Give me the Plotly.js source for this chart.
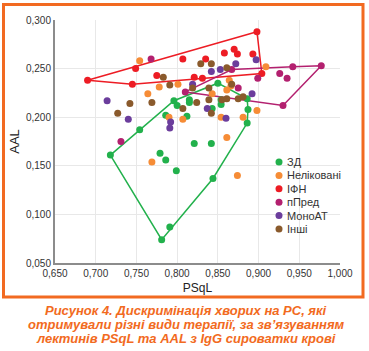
<!DOCTYPE html>
<html>
<head>
<meta charset="utf-8">
<script src="https://cdn.plot.ly/plotly-3.0.1.min.js"></script>
<style>html,body{margin:0;padding:0;background:#fff;}#chart{width:369px;height:351px;}</style>
</head>
<body>
<div id="chart"></div>
<script>
// ---- data (PSqL = x, AAL = y) ----
const groupNames = ['ЗД', 'Неліковані', 'ІФН', 'пПред', 'МоноАТ', 'Інші'];
const groupColors = ['#22b14c', '#f68c36', '#ed1c24', '#b3206f', '#6b3d9c', '#8a5a2c'];

const zdX = [0.718,0.754,0.779,0.786,0.799,0.791,0.781,0.844,0.821,0.842,0.796,0.800,0.815,0.815,0.786,0.812,0.843,0.854,0.854,0.850,0.886,0.887,0.886];
const zdY = [0.161,0.187,0.163,0.156,0.145,0.087,0.074,0.137,0.173,0.173,0.217,0.212,0.218,0.215,0.202,0.201,0.209,0.218,0.213,0.235,0.219,0.208,0.194];
const zdHull = [0,1,10,19,20,21,22,7,6,0];

const nelX = [0.754,0.764,0.778,0.790,0.801,0.807,0.843,0.854,0.861,0.864,0.866,0.881,0.898,0.909,0.861,0.874,0.769];
const nelY = [0.258,0.224,0.231,0.200,0.234,0.198,0.224,0.200,0.228,0.238,0.232,0.200,0.207,0.252,0.179,0.140,0.154];

const ifnX = [0.690,0.749,0.745,0.775,0.807,0.835,0.858,0.870,0.874,0.893,0.898,0.904,0.821,0.831];
const ifnY = [0.238,0.250,0.234,0.243,0.260,0.260,0.266,0.270,0.265,0.265,0.288,0.245,0.241,0.240];
const ifnHull = [0,10,11,2,0];

const ppredX = [0.768,0.731,0.810,0.867,0.875,0.899,0.926,0.935,0.942,0.977,0.930];
const ppredY = [0.260,0.175,0.226,0.249,0.230,0.240,0.245,0.240,0.252,0.253,0.212];
const ppredHull = [2,3,8,9,10,2];

const monoX = [0.714,0.740,0.792,0.791,0.819,0.842,0.853,0.872,0.897,0.892,0.837,0.860];
const monoY = [0.217,0.198,0.195,0.189,0.234,0.247,0.249,0.255,0.259,0.224,0.209,0.199];

const inshiX = [0.727,0.742,0.769,0.783,0.791,0.829,0.842,0.861,0.867,0.819,0.839,0.807,0.824,0.839,0.855,0.861,0.875,0.881,0.842];
const inshiY = [0.204,0.214,0.215,0.241,0.233,0.255,0.255,0.251,0.234,0.230,0.230,0.209,0.215,0.218,0.218,0.219,0.219,0.221,0.204];

const captionLines = [
  'Рисунок 4. Дискримінація хворих на РС, які',
  'отримували різні види терапії, за зв’язуванням',
  'лектинів PSqL та AAL з IgG сироватки крові'
];

// ---- build ----
const groupsX = [zdX, nelX, ifnX, ppredX, monoX, inshiX];
const groupsY = [zdY, nelY, ifnY, ppredY, monoY, inshiY];
const hulls = [zdHull, null, ifnHull, ppredHull, null, null];
const FONT = 'Liberation Sans, Arial, sans-serif';

const traces = [];
hulls.forEach((h, g) => {
  if (!h) return;
  traces.push({
    type: 'scatter', mode: 'lines', showlegend: false, hoverinfo: 'skip',
    x: h.map(i => groupsX[g][i]), y: h.map(i => groupsY[g][i]),
    line: {color: groupColors[g], width: 1.5}
  });
});
groupNames.forEach((n, g) => {
  traces.push({
    type: 'scatter', mode: 'markers', name: n, showlegend: false,
    x: groupsX[g], y: groupsY[g],
    marker: {color: groupColors[g], size: 7, line: {width: 0}}
  });
});

const L = 55, T = 20, W = 285, H = 243;
const px = v => (v - L) / W;
const py = v => (T + H - v) / H;

const shapes = [{
  type: 'rect', xref: 'paper', yref: 'paper', layer: 'above',
  x0: px(3.5), x1: px(363), y0: py(297), y1: py(4.5),
  line: {color: '#f26a21', width: 3}
}];
const annotations = [];
groupNames.forEach((n, g) => {
  const yc = 162 + g * 13.4;
  shapes.push({
    type: 'circle', xref: 'paper', yref: 'paper', xsizemode: 'pixel', ysizemode: 'pixel',
    xanchor: px(279), yanchor: py(yc), x0: -3.5, x1: 3.5, y0: -3.5, y1: 3.5,
    fillcolor: groupColors[g], line: {width: 0}
  });
  annotations.push({
    xref: 'paper', yref: 'paper', x: px(285), y: py(yc), xanchor: 'left', yanchor: 'middle',
    showarrow: false, text: n, font: {family: FONT, size: 11, color: '#333'}
  });
});
captionLines.forEach((t, i) => {
  annotations.push({
    xref: 'paper', yref: 'paper', x: px(186), y: py(310 + i * 14), xanchor: 'center', yanchor: 'middle',
    showarrow: false, text: '<b><i>' + t + '</i></b>', font: {family: FONT, size: 13, color: '#f26a21'}
  });
});

const axisCommon = {
  showgrid: true, gridcolor: '#e8e8e8', gridwidth: 1,
  showline: true, linecolor: '#8c8c8c', linewidth: 2,
  zeroline: false, ticks: '', tickformat: '.3f', dtick: 0.05,
  tickfont: {family: FONT, size: 10, color: '#333'}
};

const layout = {
  width: 369, height: 351,
  margin: {l: L, r: 369 - L - W, t: T, b: 351 - T - H, pad: 0},
  paper_bgcolor: '#fff', plot_bgcolor: '#fff',
  separators: ', ',
  showlegend: false,
  font: {family: FONT, color: '#333'},
  xaxis: Object.assign({}, axisCommon, {range: [0.65, 1.0], tick0: 0.65,
    title: {text: 'PSqL', font: {family: FONT, size: 12, color: '#222'}, standoff: 6}}),
  yaxis: Object.assign({}, axisCommon, {range: [0.05, 0.30], tick0: 0.05,
    title: {text: 'AAL', font: {family: FONT, size: 13, color: '#222'}, standoff: 3}}),
  shapes: shapes,
  annotations: annotations
};

Plotly.newPlot('chart', traces, layout, {displayModeBar: false, staticPlot: true});
</script>
</body>
</html>
